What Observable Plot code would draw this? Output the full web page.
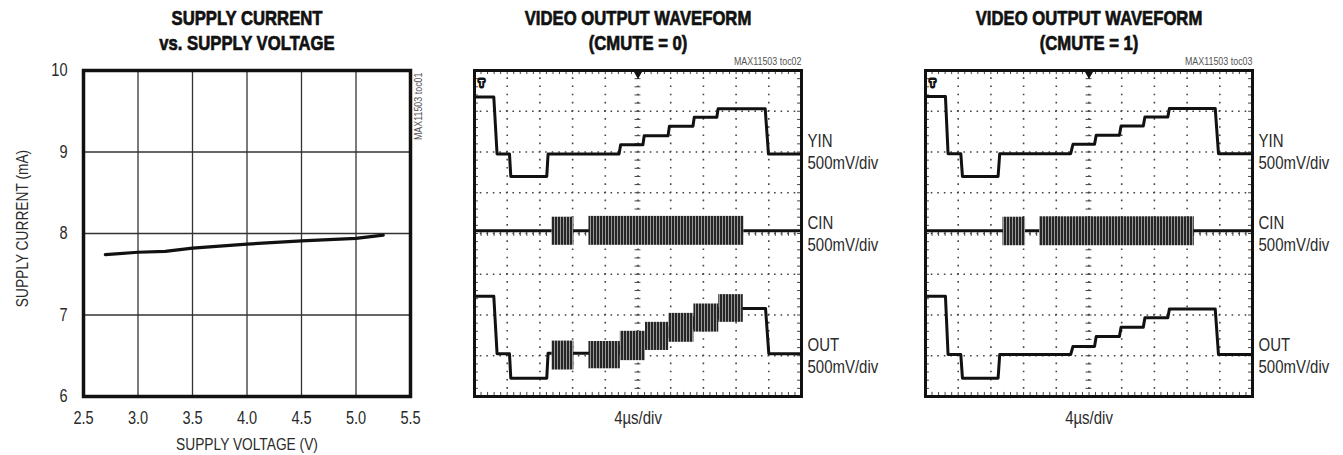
<!DOCTYPE html>
<html><head><meta charset="utf-8">
<script src="https://cdn.jsdelivr.net/npm/d3@7"></script>
<script src="https://cdn.jsdelivr.net/npm/@observablehq/plot@0.6"></script>
<style>
body{margin:0;background:#fff;}
#root{position:relative;width:1343px;height:455px;overflow:hidden;background:#fff;}
</style></head><body>
<svg width="0" height="0" style="position:absolute"><defs>
<pattern id="burst" patternUnits="userSpaceOnUse" width="3" height="8"><rect width="3" height="8" fill="#9a9a9a"/><rect x="0" width="2" height="8" fill="#262626"/></pattern>
</defs></svg>
<div id="root"></div>
<script>
const FONT = "'Liberation Sans', Arial, Helvetica, sans-serif";

// ---------- Panel 1: supply current vs supply voltage ----------
const supplyVoltage = [2.7, 3.0, 3.25, 3.5, 4.0, 4.5, 5.0, 5.25];
const supplyCurrent = [7.74, 7.77, 7.78, 7.82, 7.87, 7.91, 7.94, 7.98];
const voltageTicks = [2.5, 3.0, 3.5, 4.0, 4.5, 5.0, 5.5];
const currentTicks = [6, 7, 8, 9, 10];
const voltageGrid = [3.0, 3.5, 4.0, 4.5, 5.0];
const currentGrid = [7, 8, 9];

// ---------- Scope panels (units: divisions; x 0..10, y 0..8) ----------
const divX = [1, 2, 3, 4, 6, 7, 8, 9];
const divY = [1, 2, 3, 5, 6, 7];
const minorX = d3.range(0, 10.001, 0.2);
const minorY = d3.range(0, 8.001, 0.2);
const channelLabels = ["YIN\n500mV/div", "CIN\n500mV/div", "OUT\n500mV/div"];
const channelLevels = [6.02, 4.01, 1.02];

// CMUTE = 0
const yin0T = [0, 0.59, 0.69, 1.07, 1.11, 2.21, 2.25, 4.42, 4.47, 5.15, 5.19, 5.92, 5.96, 6.68, 6.72, 7.41, 7.45, 8.89, 8.99, 10];
const yin0V = [7.35, 7.35, 5.95, 5.95, 5.40, 5.40, 5.95, 5.95, 6.18, 6.18, 6.40, 6.40, 6.63, 6.63, 6.85, 6.85, 7.06, 7.06, 5.95, 5.95];
const cin0T = [0, 10];
const cin0V = [4.07, 4.07];
const cin0BurstStart = [2.37, 3.50];
const cin0BurstEnd = [3.04, 8.24];
const cin0BurstLo = [3.71, 3.71];
const cin0BurstHi = [4.40, 4.42];
const out0T = [0, 0.59, 0.69, 1.07, 1.11, 2.21, 2.25, 4.46, 4.46, 5.23, 5.23, 5.94, 5.94, 6.71, 6.71, 7.47, 7.47, 8.90, 9.00, 10];
const out0V = [2.46, 2.46, 1.05, 1.05, 0.45, 0.45, 1.06, 1.06, 1.24, 1.24, 1.47, 1.47, 1.69, 1.69, 1.93, 1.93, 2.16, 2.16, 1.05, 1.05];
const out0BurstStart = [2.37, 3.50, 4.46, 5.23, 5.94, 6.71, 7.47];
const out0BurstEnd = [3.04, 4.46, 5.23, 5.94, 6.71, 7.47, 8.22];
const out0BurstLo = [0.65, 0.68, 0.88, 1.13, 1.33, 1.58, 1.82];
const out0BurstHi = [1.36, 1.35, 1.60, 1.82, 2.04, 2.27, 2.50];

// CMUTE = 1
const yin1T = [0, 0.61, 0.69, 1.08, 1.13, 2.22, 2.27, 4.44, 4.51, 5.17, 5.22, 5.93, 5.98, 6.66, 6.71, 7.41, 7.46, 8.86, 8.96, 10];
const yin1V = [7.36, 7.36, 5.96, 5.96, 5.40, 5.40, 5.96, 5.96, 6.19, 6.19, 6.41, 6.41, 6.64, 6.64, 6.86, 6.86, 7.07, 7.07, 5.96, 5.96];
const cin1T = [0, 10];
const cin1V = [4.07, 4.07];
const cin1BurstStart = [2.37, 3.49];
const cin1BurstEnd = [3.06, 8.22];
const cin1BurstLo = [3.70, 3.70];
const cin1BurstHi = [4.40, 4.41];
const out1T = [0, 0.61, 0.69, 1.08, 1.13, 2.22, 2.27, 4.44, 4.51, 5.17, 5.22, 5.93, 5.98, 6.66, 6.71, 7.41, 7.46, 8.86, 8.96, 10];
const out1V = [2.46, 2.46, 1.03, 1.03, 0.45, 0.45, 1.03, 1.03, 1.23, 1.23, 1.47, 1.47, 1.70, 1.70, 1.93, 1.93, 2.15, 2.15, 1.03, 1.03];
const out1BurstStart = [];
const out1BurstEnd = [];
const out1BurstLo = [];
const out1BurstHi = [];

const root = document.getElementById("root");
const baseStyle = {fontFamily: FONT, fontSize: "18px", color: "#2a2a2a", background: "transparent", overflow: "visible"};
const zip = (T, V) => T.map((t, i) => ({t, v: V[i]}));
const bursts = (s, e, lo, hi) => s.map((t0, i) => ({t0, t1: e[i], lo: lo[i], hi: hi[i]}));
const titleStyle = {frameAnchor: "top", lineAnchor: "bottom", dy: -21, fontSize: 20, fontWeight: "bold", lineHeight: 1.25, fill: "#111", stroke: "#111", strokeWidth: 0.7};

function place(svg, left) {
  svg.style.position = "absolute";
  svg.style.left = left + "px";
  svg.style.top = "0px";
  root.appendChild(svg);
  return svg;
}

// Panel 1
const supplyData = supplyVoltage.map((v, i) => ({v, i: supplyCurrent[i]}));
const p1 = Plot.plot({
  width: 450, height: 455,
  marginLeft: 83, marginRight: 40, marginTop: 70, marginBottom: 59,
  style: baseStyle,
  x: {domain: [2.5, 5.5], ticks: voltageTicks, tickFormat: d3.format(".1f"), tickSize: 0, tickPadding: 15, label: null},
  y: {domain: [6, 10], ticks: currentTicks, tickFormat: d3.format("d"), tickSize: 0, tickPadding: 16, label: null},
  marks: [
    Plot.ruleX(voltageGrid, {stroke: "#333", strokeWidth: 1.3}),
    Plot.ruleY(currentGrid, {stroke: "#333", strokeWidth: 1.3}),
    Plot.line(supplyData, {x: "v", y: "i", stroke: "#111", strokeWidth: 3.2}),
    Plot.frame({stroke: "#111", strokeWidth: 3.5}),
    Plot.text(["SUPPLY CURRENT\nvs. SUPPLY VOLTAGE"], titleStyle),
    Plot.text(["SUPPLY VOLTAGE (V)"], {frameAnchor: "bottom", lineAnchor: "bottom", dy: 53, fontSize: 17}),
    Plot.text(["SUPPLY CURRENT (mA)"], {frameAnchor: "left", lineAnchor: "bottom", textAnchor: "middle", rotate: -90, dx: -56, dy: -5, fontSize: 17}),
    Plot.text(["MAX11503 toc01"], {frameAnchor: "top-right", lineAnchor: "bottom", textAnchor: "end", rotate: -90, dx: 11, dy: 2, fontSize: 11, fill: "#555"})
  ]
});
place(p1, 0);

function scope(o) {
  const yin = zip(o.yinT, o.yinV), cin = zip(o.cinT, o.cinV), out = zip(o.outT, o.outV);
  const dotted = {stroke: "#444", strokeWidth: 1.6};
  return Plot.plot({
    width: o.width, height: 455,
    marginLeft: o.marginLeft, marginRight: o.marginRight, marginTop: 70, marginBottom: 59,
    style: baseStyle,
    x: {domain: [0, 10], axis: null},
    y: {domain: [0, 8], axis: null},
    marks: [
      Plot.ruleX(divX.concat([5]), {...dotted, strokeDasharray: "1.6,6.55", strokeDashoffset: 0.8}),
      Plot.ruleY(divY.concat([4]), {...dotted, strokeDasharray: "1.6,4.94", strokeDashoffset: 0.8}),
      Plot.ruleY(minorY, {y: d => d, x1: 4.91, x2: 5.09, stroke: "#444", strokeWidth: 1}),
      Plot.ruleX(minorX, {x: d => d, y1: 3.93, y2: 4.07, stroke: "#444", strokeWidth: 1}),
      Plot.ruleX(minorX, {x: d => d, y1: 0, y2: 0.1, stroke: "#444", strokeWidth: 1}),
      Plot.ruleX(minorX, {x: d => d, y1: 8, y2: 7.9, stroke: "#444", strokeWidth: 1}),
      Plot.ruleY(minorY, {y: d => d, x1: 0, x2: 0.12, stroke: "#444", strokeWidth: 1}),
      Plot.ruleY(minorY, {y: d => d, x1: 10, x2: 9.88, stroke: "#444", strokeWidth: 1}),
      Plot.line(yin, {x: "t", y: "v", stroke: "#111", strokeWidth: 3}),
      Plot.line(cin, {x: "t", y: "v", stroke: "#111", strokeWidth: 3}),
      Plot.line(out, {x: "t", y: "v", stroke: "#111", strokeWidth: 3}),
      Plot.rect(o.cinB, {x1: "t0", x2: "t1", y1: "lo", y2: "hi", fill: "url(#burst)"}),
      Plot.rect(o.outB, {x1: "t0", x2: "t1", y1: "lo", y2: "hi", fill: "url(#burst)"}),
      Plot.frame({stroke: "#111", strokeWidth: 3}),
      Plot.dot([5], {x: d => d, y: 8, symbol: "triangle", r: 3.5, rotate: 180, fill: "#111", dy: 3}),
      Plot.text(["T"], {frameAnchor: "top-left", textAnchor: "middle", lineAnchor: "middle", dx: 7, dy: 12.5, fontSize: 9, fontWeight: "bold", fill: "white", stroke: "#111", strokeWidth: 5, strokeLinejoin: "round"}),
      Plot.text(channelLabels, {x: 10, y: (d, i) => channelLevels[i], dx: 6, textAnchor: "start", lineAnchor: "middle", lineHeight: 1.2, fontSize: 18.5}),
      Plot.text([o.title], titleStyle),
      Plot.text([o.toc], {frameAnchor: "top-right", textAnchor: "end", lineAnchor: "bottom", dy: -6, fontSize: 11, fill: "#555"}),
      Plot.text(["4µs/div"], {frameAnchor: "bottom", lineAnchor: "bottom", dy: 27, fontSize: 18.5})
    ]
  });
}

const p2 = place(scope({
  width: 443, marginLeft: 24, marginRight: 92,
  title: "VIDEO OUTPUT WAVEFORM\n(CMUTE = 0)", toc: "MAX11503 toc02",
  yinT: yin0T, yinV: yin0V, cinT: cin0T, cinV: cin0V, outT: out0T, outV: out0V,
  cinB: bursts(cin0BurstStart, cin0BurstEnd, cin0BurstLo, cin0BurstHi),
  outB: bursts(out0BurstStart, out0BurstEnd, out0BurstLo, out0BurstHi)
}), 450);

const p3 = place(scope({
  width: 450, marginLeft: 32, marginRight: 91,
  title: "VIDEO OUTPUT WAVEFORM\n(CMUTE = 1)", toc: "MAX11503 toc03",
  yinT: yin1T, yinV: yin1V, cinT: cin1T, cinV: cin1V, outT: out1T, outV: out1V,
  cinB: bursts(cin1BurstStart, cin1BurstEnd, cin1BurstLo, cin1BurstHi),
  outB: bursts(out1BurstStart, out1BurstEnd, out1BurstLo, out1BurstHi)
}), 893);

// Emulate the condensed typeface of the original by narrowing text horizontally.
const allText = Array.from(root.querySelectorAll("text"));
const xLabel = allText.find(t => t.textContent === "SUPPLY VOLTAGE (V)");
const titleSpan = Array.from(root.querySelectorAll("tspan")).find(t => t.textContent === "SUPPLY CURRENT");
const sRegular = xLabel ? 142 / xLabel.getComputedTextLength() : 0.78;
const sBold = titleSpan ? 151 / titleSpan.getComputedTextLength() : 0.84;
allText.forEach(t => {
  const fw = t.closest("[font-weight]");
  const s = fw && fw.getAttribute("font-weight") === "bold" ? sBold : sRegular;
  const tr = t.getAttribute("transform");
  if (tr) t.setAttribute("transform", tr + ` scale(${s},1)`);
  else {
    const x = parseFloat(t.getAttribute("x")) || 0;
    t.setAttribute("transform", `translate(${x},0) scale(${s},1) translate(${-x},0)`);
  }
});
</script>
</body></html>
